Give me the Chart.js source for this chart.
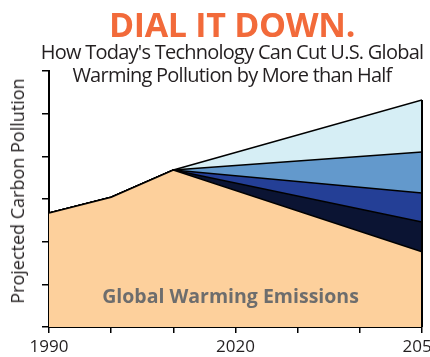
<!DOCTYPE html>
<html>
<head>
<meta charset="utf-8">
<script src="https://cdn.jsdelivr.net/npm/chart.js@4.4.1/dist/chart.umd.min.js"></script>
<style>
  html, body { margin: 0; padding: 0; background: #fff; overflow: hidden; }
  #wrap { position: relative; width: 430px; height: 357px; overflow: hidden; }
  #chart { position: absolute; left: 0; top: 0; }
  .head { position: absolute; left: 0; width: 464px; text-align: center; white-space: nowrap; }
  #title { top: 1px; font: bold 34px "Open Sans", sans-serif; color: #f26a3a; letter-spacing: -0.3px; }
  .sub { font: 20px "Open Sans", sans-serif; color: #231f20; letter-spacing: -0.75px; }
  #sub1 { top: 38px; }
  #sub2 { top: 61px; }
  #ylab {
    position: absolute; left: 17px; top: 191px; white-space: nowrap;
    font: 18px "Open Sans", sans-serif; color: #231f20;
    transform: translate(-50%, -50%) rotate(-90deg);
  }
</style>
</head>
<body>
<div id="wrap">
  <canvas id="chart" width="460" height="357"></canvas>
  <div class="head" id="title">DIAL IT DOWN.</div>
  <div class="head sub" id="sub1">How Today's Technology Can Cut U.S. Global</div>
  <div class="head sub" id="sub2">Warming Pollution by More than Half</div>
  <div id="ylab">Projected Carbon Pollution</div>
</div>
<script>
// years with known points; the wedges only open up after 2010
const years = [1990, 2000, 2010, 2050];
const emissions = [2.67, 3.04, 3.68, 1.76];
const cutNavy = [0, 0, 0, 0.70];
const cutBlue = [0, 0, 0, 0.68];
const cutMid = [0, 0, 0, 0.96];
const cutLight = [0, 0, 0, 1.22];
const xLabels = [1990, 2020, 2050];
const yMax = 6;

const pts = vals => vals.map((v, i) => ({ x: years[i], y: v }));

function series(label, vals, color, fill) {
  return {
    label,
    data: pts(vals),
    backgroundColor: color,
    borderColor: '#000',
    borderWidth: 1.5,
    pointRadius: 0,
    tension: 0,
    fill
  };
}

// label inside the orange area + the closing edge at 2050
const extras = {
  id: 'extras',
  afterDraw(chart) {
    const { ctx, scales: { x, y } } = chart;
    const last = years.length - 1;
    const total = [emissions, cutNavy, cutBlue, cutMid, cutLight]
      .reduce((s, arr) => s + arr[last], 0);
    const px = x.getPixelForValue(years[last]);
    ctx.save();
    ctx.strokeStyle = '#000';
    ctx.lineWidth = 2;
    ctx.beginPath();
    ctx.moveTo(px, y.getPixelForValue(0));
    ctx.lineTo(px, y.getPixelForValue(total));
    ctx.stroke();

    ctx.fillStyle = '#6d6d6d';
    ctx.font = 'bold 19.5px "Open Sans", sans-serif';
    ctx.textAlign = 'center';
    ctx.textBaseline = 'middle';
    ctx.fillText('Global Warming Emissions', x.getPixelForValue(2019.2), y.getPixelForValue(0.7));
    ctx.restore();
  }
};

new Chart(document.getElementById('chart'), {
  type: 'line',
  data: {
    datasets: [
      series('Emissions', emissions, '#fdd09c', 'origin'),
      series('Cut 1', cutNavy, '#0b1433', '-1'),
      series('Cut 2', cutBlue, '#243f96', '-1'),
      series('Cut 3', cutMid, '#6399cc', '-1'),
      series('Cut 4', cutLight, '#d6eef5', '-1')
    ]
  },
  options: {
    responsive: false,
    devicePixelRatio: 1,
    animation: false,
    layout: { padding: { top: 71, right: 38, bottom: 0, left: 0 } },
    plugins: { legend: { display: false }, tooltip: { enabled: false } },
    scales: {
      x: {
        type: 'linear',
        min: 1990,
        max: 2050,
        afterFit: s => { s.height = 30; },
        border: { color: '#000', width: 2 },
        grid: { drawOnChartArea: false, color: '#000', lineWidth: 1.5, tickLength: 6 },
        ticks: {
          stepSize: 10,
          padding: 4,
          color: '#231f20',
          font: { family: 'Open Sans', size: 17 },
          maxRotation: 0,
          autoSkip: false,
          callback: v => xLabels.includes(v) ? String(v) : ''
        }
      },
      y: {
        stacked: true,
        min: 0,
        max: yMax,
        afterFit: s => { s.width = 49; },
        border: { color: '#000', width: 2 },
        grid: { drawOnChartArea: false, color: '#000', lineWidth: 1.5, tickLength: 7 },
        ticks: { stepSize: 1, display: false }
      }
    }
  },
  plugins: [extras]
});
</script>
</body>
</html>
